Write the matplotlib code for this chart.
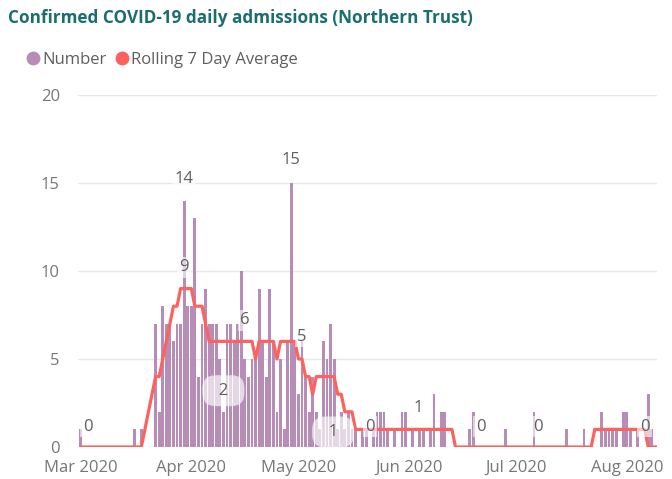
import matplotlib
matplotlib.use("Agg")

import matplotlib.pyplot as plt
import matplotlib.dates as mdates
from matplotlib.lines import Line2D
import pandas as pd

plt.rcParams["font.family"] = ["Open Sans", "DejaVu Sans"]

# daily confirmed admissions, 1 Mar 2020 onwards
admissions = [
    # March
    1, 0, 0, 0, 0, 0, 0, 0, 0, 0, 0, 0, 0, 0, 0, 1, 0, 1, 0, 0,
    0, 7, 2, 8, 7, 7, 6, 7, 7, 14, 8,
    # April
    8, 13, 4, 7, 9, 7, 7, 7, 5, 2, 7, 7, 6, 7, 10, 5, 4, 5, 5, 9,
    6, 4, 9, 6, 2, 5, 1, 6, 15, 6,
    # May
    3, 6, 4, 2, 4, 2, 1, 6, 5, 7, 5, 1, 2, 1, 2, 1, 1, 0, 1, 1,
    0, 1, 2, 2, 2, 1, 0, 1, 0, 2, 2,
    # June
    0, 1, 0, 1, 1, 0, 1, 3, 0, 2, 2, 0, 0, 0, 0, 0, 0, 1, 2, 0,
    0, 0, 0, 0, 0, 0, 0, 1, 0, 0,
    # July
    0, 0, 0, 0, 0, 2, 0, 0, 0, 0, 0, 0, 0, 0, 1, 0, 0, 0, 0, 1,
    0, 0, 0, 0, 2, 1, 1, 1, 1, 0, 2,
    # August
    2, 1, 0, 1, 0, 0, 3, 1, 0,
]

rolling_avg = [
    # March
    0, 0, 0, 0, 0, 0, 0, 0, 0, 0, 0, 0, 0, 0, 0, 0, 0, 0, 1, 2,
    3, 4, 4, 5, 6, 7, 8, 8, 9, 9, 9,
    # April
    9, 8, 8, 8, 7, 6, 6, 6, 6, 6, 6, 6, 6, 6, 6, 6, 6, 6, 5, 6,
    6, 6, 6, 6, 5, 6, 6, 6, 6, 6,
    # May
    5, 5, 4, 4, 3, 4, 4, 4, 4, 4, 4, 3, 3, 2, 2, 2, 1, 1, 1, 1,
    1, 1, 1, 1, 1, 1, 1, 1, 1, 1, 1,
    # June
    1, 1, 1, 1, 1, 1, 1, 1, 1, 1, 1, 1, 1, 0, 0, 0, 0, 0, 0, 0,
    0, 0, 0, 0, 0, 0, 0, 0, 0, 0,
    # July
    0, 0, 0, 0, 0, 0, 0, 0, 0, 0, 0, 0, 0, 0, 0, 0, 0, 0, 0, 0,
    0, 0, 1, 1, 1, 1, 1, 1, 1, 1, 1,
    # August
    1, 1, 1, 1, 1, 1, 0, 0, 0,
]

dates = pd.date_range("2020-03-01", periods=len(admissions), freq="D")

# data labels: (day index, series, label height, shifted in days, boxed)
labels = [
    (2, "avg", 1.15, 0, False),
    (29, "num", 15.2, 0, False),
    (29, "avg", 10.2, 0, False),
    (46, "avg", 7.2, 0, False),
    (40, "num", 3.2, 0, True),
    (59, "num", 16.3, 0, False),
    (62, "avg", 6.25, 0, False),
    (72, "num", 0.85, -1.3, True),
    (81, "num", 1.15, 0, False),
    (95, "num", 2.2, -0.5, False),
    (112, "avg", 1.15, 0, False),
    (128, "avg", 1.15, 0, False),
    (158, "num", 1.15, 0, False),
]

bar_color = "#B78DB8"
line_color = "#FD625E"
text_grey = "#605E5C"

fig = plt.figure(figsize=(6.72, 4.79), dpi=100)
ax = fig.add_axes([0.116, 0.0668, 0.862, 0.735])

ax.bar(dates, admissions, width=0.78, color=bar_color, zorder=2)
ax.plot(dates, rolling_avg, color=line_color, linewidth=2.3, zorder=3,
        solid_joinstyle="round")

for idx, series, y, shift, boxed in labels:
    value = admissions[idx] if series == "num" else rolling_avg[idx]
    x = dates[idx] + pd.Timedelta(days=shift)
    if boxed:
        box = dict(boxstyle="round,pad=0.45,rounding_size=0.8",
                   facecolor="white", edgecolor="none", alpha=0.65)
        ax.text(x, y, f"  {value}  ", ha="center", va="center", fontsize=12,
                color=text_grey, bbox=box, zorder=4)
    else:
        box = dict(boxstyle="square,pad=0.15", facecolor="white",
                   edgecolor="none", alpha=0.6)
        ax.text(x, y, str(value), ha="center", va="center", fontsize=12,
                color=text_grey, bbox=box, zorder=4)

ax.set_ylim(0, 20)
ax.set_yticks([0, 5, 10, 15, 20])
ax.set_xlim(dates[0] - pd.Timedelta(days=0.75), dates[-1] + pd.Timedelta(days=0.5))
ax.xaxis.set_major_locator(mdates.MonthLocator())
ax.xaxis.set_major_formatter(mdates.DateFormatter("%b %Y"))

ax.grid(axis="y", color="#E8E8E8", linewidth=1, zorder=0)
ax.set_axisbelow(True)
for side in ("top", "right", "left", "bottom"):
    ax.spines[side].set_visible(False)
ax.tick_params(axis="both", length=0, labelsize=12, colors="#777777")
ax.tick_params(axis="y", pad=13)
ax.tick_params(axis="x", pad=9)

fig.text(0.012, 0.962, "Confirmed COVID-19 daily admissions (Northern Trust)",
         fontsize=12.3, fontweight="bold", color="#1A6E70", va="center")

handles = [
    Line2D([], [], marker="o", linestyle="none", markersize=10,
           markerfacecolor=bar_color, markeredgecolor="none", label="Number"),
    Line2D([], [], marker="o", linestyle="none", markersize=10,
           markerfacecolor=line_color, markeredgecolor="none",
           label="Rolling 7 Day Average"),
]
fig.legend(handles=handles, loc="center left", bbox_to_anchor=(0.027, 0.875),
           ncol=2, frameon=False, fontsize=12, handletextpad=0.05,
           columnspacing=0.4, borderaxespad=0, labelcolor=text_grey,
           handlelength=1.0)

plt.savefig("out.png", dpi=100)
plt.close()
